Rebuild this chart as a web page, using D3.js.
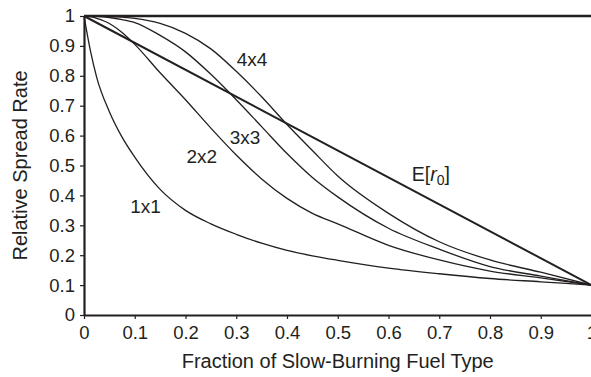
<!DOCTYPE html>
<html>
<head>
<meta charset="utf-8">
<script src="https://cdn.jsdelivr.net/npm/d3@7"></script>
<style>
  body { margin: 0; background: #fff; }
  svg { display: block; }
  text { font-family: "Liberation Sans", Arial, Helvetica, sans-serif; fill: #231f20; }
</style>
</head>
<body>
<svg id="chart"></svg>
<script>
var width = 591;
var height = 377;

// fraction of slow-burning fuel (x values shared by the grid curves)
var fraction = [0, 0.0125, 0.025, 0.05, 0.075, 0.1, 0.15, 0.2, 0.25, 0.3, 0.35, 0.4, 0.45, 0.5, 0.6, 0.7, 0.8, 0.9, 1];
// relative spread rate for each grid size
var rate1x1 = [1, 0.885, 0.795, 0.68, 0.595, 0.528, 0.42, 0.35, 0.305, 0.27, 0.24, 0.216, 0.198, 0.183, 0.157, 0.138, 0.122, 0.111, 0.1];
var rate2x2 = [1, 0.998, 0.992, 0.975, 0.945, 0.905, 0.81, 0.72, 0.625, 0.535, 0.455, 0.39, 0.34, 0.305, 0.233, 0.184, 0.147, 0.124, 0.1];
var rate3x3 = [1, 1, 0.999, 0.995, 0.988, 0.978, 0.935, 0.88, 0.805, 0.72, 0.63, 0.54, 0.46, 0.395, 0.29, 0.22, 0.162, 0.13, 0.1];
var rate4x4 = [1, 1, 1, 0.999, 0.996, 0.992, 0.975, 0.942, 0.89, 0.815, 0.73, 0.637, 0.55, 0.465, 0.34, 0.245, 0.184, 0.143, 0.1];
// expected rate E[r0] and the upper bound line
var eFraction = [0, 1];
var eRate = [1, 0.1];
var topFraction = [0, 1];
var topRate = [1, 1];

// ticks
var xTicks = [0, 0.1, 0.2, 0.3, 0.4, 0.5, 0.6, 0.7, 0.8, 0.9, 1];
var xTickLabels = ["0", "0.1", "0.2", "0.3", "0.4", "0.5", "0.6", "0.7", "0.8", "0.9", "1"];
var yTicks = [0, 0.1, 0.2, 0.3, 0.4, 0.5, 0.6, 0.7, 0.8, 0.9, 1];
var yTickLabels = ["0", "0.1", "0.2", "0.3", "0.4", "0.5", "0.6", "0.7", "0.8", "0.9", "1"];

// curve labels, anchored in data units
var labelNames = ["1x1", "2x2", "3x3", "4x4"];
var labelX = [0.091, 0.202, 0.287, 0.301];
var labelY = [0.34, 0.507, 0.572, 0.833];

var margin = {left: 84, top: 16, bottom: 62};

var xScale = d3.scaleLinear()
                .domain([0, 1])
                .range([margin.left, 591.5]);

var yScale = d3.scaleLinear()
                .domain([0, 1])
                .range([height - margin.bottom, margin.top]);

var svg = d3.select("#chart")
            .attr("width", width)
            .attr("height", height);

var line = d3.line()
             .x(function(d) { return xScale(d[0]); })
             .y(function(d) { return yScale(d[1]); });

// the grid curves are drawn smooth
var smoothLine = d3.line()
             .curve(d3.curveMonotoneX)
             .x(function(d) { return xScale(d[0]); })
             .y(function(d) { return yScale(d[1]); });

function zipSeries(xs, ys) {
    return xs.map(function(x, i) { return [x, ys[i]]; });
}

var curves = [rate1x1, rate2x2, rate3x3, rate4x4];
curves.forEach(function(ys) {
    svg.append("path")
        .attr("d", smoothLine(zipSeries(fraction, ys)))
        .attr("fill", "none")
        .attr("stroke", "#231f20")
        .attr("stroke-width", 1.3);
});

// E[r0] straight line, a bit heavier
svg.append("path")
    .attr("d", line(zipSeries(eFraction, eRate)))
    .attr("fill", "none")
    .attr("stroke", "#231f20")
    .attr("stroke-width", 2);

// line at 1
svg.append("path")
    .attr("d", line(zipSeries(topFraction, topRate)))
    .attr("fill", "none")
    .attr("stroke", "#231f20")
    .attr("stroke-width", 2.4);

var xAxis = d3.axisBottom(xScale)
              .tickValues(xTicks)
              .tickFormat(function(d, i) { return xTickLabels[i]; })
              .tickSize(4)
              .tickSizeOuter(0)
              .tickPadding(7);

var yAxis = d3.axisLeft(yScale)
              .tickValues(yTicks)
              .tickFormat(function(d, i) { return yTickLabels[i]; })
              .tickSize(4)
              .tickSizeOuter(0)
              .tickPadding(5);

var gx = svg.append("g")
    .attr("transform", "translate(0," + yScale(0) + ")")
    .call(xAxis);
var gy = svg.append("g")
    .attr("transform", "translate(" + xScale(0) + ",0)")
    .call(yAxis);

[gx, gy].forEach(function(g) {
    g.select(".domain").attr("stroke", "#231f20").attr("stroke-width", 2.2);
    g.selectAll(".tick line").attr("stroke", "#231f20").attr("stroke-width", 1.2);
    g.selectAll(".tick text")
        .style("font-size", "18.5px")
        .style("font-family", "'Liberation Sans', Arial, Helvetica, sans-serif")
        .attr("fill", "#231f20");
});

// axis titles
svg.append("text")
    .attr("x", (xScale(0) + xScale(1)) / 2)
    .attr("y", 368)
    .style("text-anchor", "middle")
    .style("font-size", "20px")
    .text("Fraction of Slow-Burning Fuel Type");

svg.append("text")
    .attr("transform", "rotate(-90)")
    .attr("x", -(yScale(0) + yScale(1)) / 2)
    .attr("y", 26.5)
    .style("text-anchor", "middle")
    .style("font-size", "20px")
    .text("Relative Spread Rate");

// curve labels
labelNames.forEach(function(name, i) {
    svg.append("text")
        .attr("x", xScale(labelX[i]))
        .attr("y", yScale(labelY[i]))
        .style("font-size", "19px")
        .text(name);
});

var eLabel = svg.append("text")
    .attr("x", xScale(0.646))
    .attr("y", yScale(0.449))
    .style("font-size", "19.5px");
eLabel.append("tspan").text("E[");
eLabel.append("tspan").style("font-style", "italic").text("r");
eLabel.append("tspan").attr("dy", 4).style("font-size", "14px").text("0");
eLabel.append("tspan").attr("dy", -4).text("]");
</script>
</body>
</html>
